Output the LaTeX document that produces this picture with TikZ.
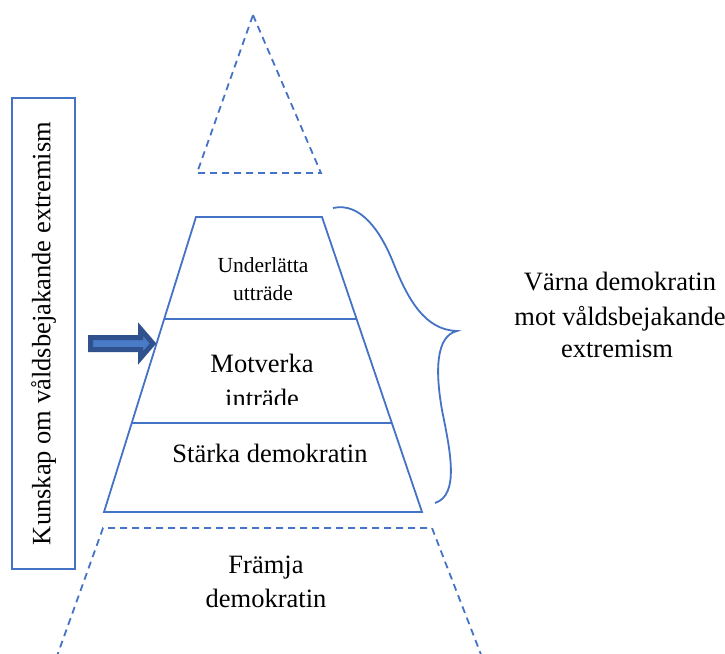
\documentclass[tikz,border=0pt]{standalone}
\usepackage{fontspec}
\setmainfont{Liberation Serif}
\usetikzlibrary{calc}
\definecolor{lineblue}{HTML}{4472C4}
\definecolor{arrowdark}{HTML}{2F528F}
\definecolor{arrowfill}{HTML}{4A7BC6}
\newcommand{\lvlfont}{\fontsize{26.5}{32}\selectfont}
\newcommand{\smlfont}{\fontsize{21.5}{26}\selectfont}
\tikzset{
  edge/.style={lineblue, line width=1.8pt},
  dashedge/.style={lineblue, line width=1.8pt, dash pattern=on 7pt off 5pt},
  lbl/.style={inner sep=0pt, anchor=base, font=\lvlfont},
}

\begin{document}
\begin{tikzpicture}[x=1pt,y=-1pt]
\useasboundingbox (0,0) rectangle (725,653);
\clip (0,0) rectangle (725,653);

% top (dashed triangle)
\coordinate (A) at (253,15);
\draw[dashedge] (A) -- (321,173) -- (197,173) -- cycle;

% middle (solid trapezoid)
\coordinate (T1) at (196,217);
\coordinate (T2) at (322,217);
\coordinate (B1) at (104,512);
\coordinate (B2) at (422,512);
\draw[edge] (T1) -- (T2) -- (B2) -- (B1) -- cycle;
\pgfmathsetmacro{\f}{102/295} % first level
\pgfmathsetmacro{\g}{206/295} % second level
\draw[edge] ($(T1)!\f!(B1)$) -- ($(T2)!\f!(B2)$);
\draw[edge] ($(T1)!\g!(B1)$) -- ($(T2)!\g!(B2)$);

% levels
\node[lbl, font=\smlfont] (under1) at (263,272) {Underlätta};
\node[lbl, font=\smlfont] (under2) at (263,300) {utträde};
\node[lbl] (mot1) at (262,372) {Motverka};
\begin{scope}
\clip (150,330) rectangle (380,404);
\node[lbl] (mot2) at (262,407) {inträde};
\end{scope}
\node[lbl] (stark) at (270,462) {Stärka demokratin};

% bottom (dashed, open)
\draw[dashedge] (52,670) -- (103,528) -- (432,528) -- (487,670);
\node[lbl] (fram1) at (266,573) {Främja};
\node[lbl] (fram2) at (266,607) {demokratin};

% knowledge box
\node[draw=lineblue, line width=1.8pt, rotate=90, inner sep=0pt,
      minimum width=471pt, minimum height=63pt, font=\lvlfont]
      (kbox) at (43.5,333.5) {Kunskap om våldsbejakande extremism};

% arrow
\draw[arrowdark, fill=arrowfill, line width=5pt, line join=miter]
  (90.5,337.5) -- (140.5,337.5) -- (140.5,329) -- (153,343.5)
  -- (140.5,358) -- (140.5,349.5) -- (90.5,349.5) -- cycle;

% brace
\draw[edge] (333,208) .. controls (360,202) and (380,230) .. (393,262)
  .. controls (408,300) and (425,330) .. (457,331)
  .. controls (436,336) and (435,370) .. (442,410)
  .. controls (450,450) and (460,495) .. (435,503);
\node[lbl] (varna1) at (620,290) {Värna demokratin};
\node[lbl] (varna2) at (620,325) {mot våldsbejakande};
\node[lbl] (varna3) at (617,357) {extremism};
\end{tikzpicture}
\end{document}
